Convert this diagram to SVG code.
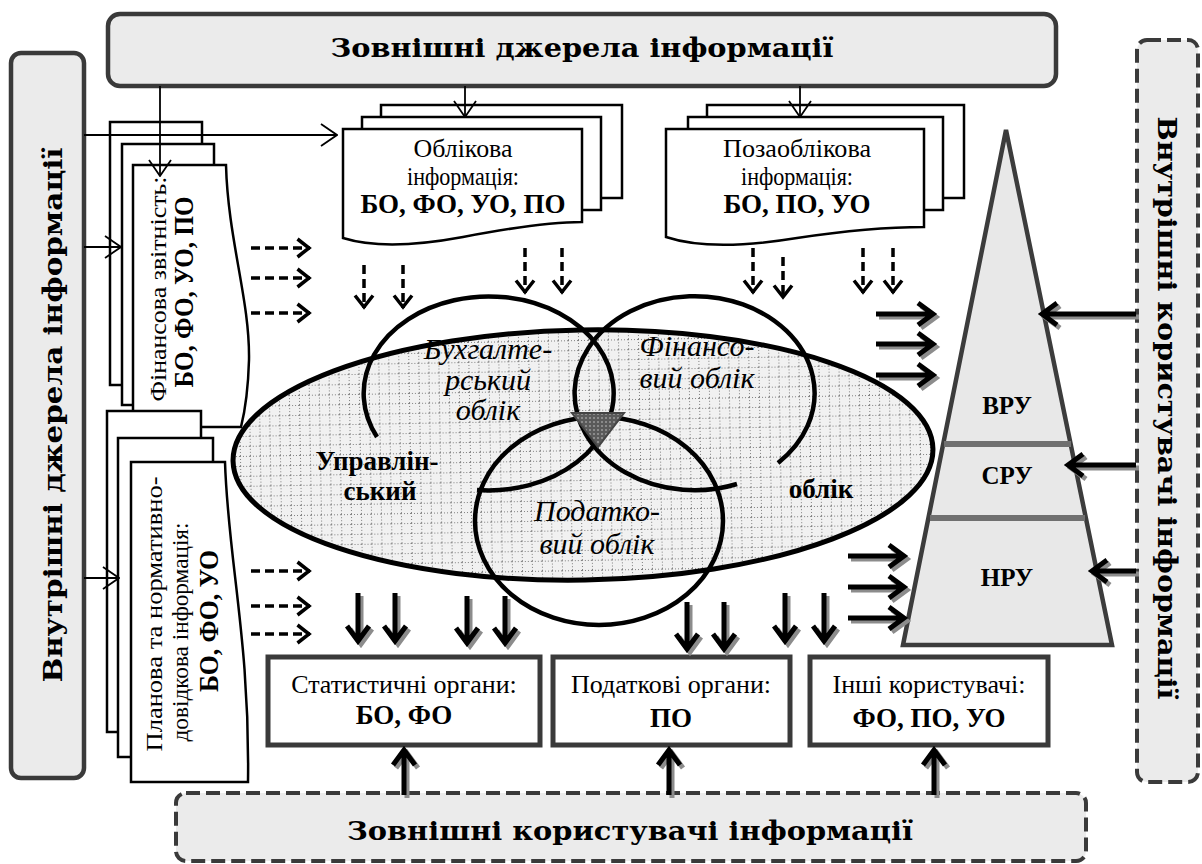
<svg xmlns="http://www.w3.org/2000/svg" xmlns:xlink="http://www.w3.org/1999/xlink" width="1202" height="864" viewBox="0 0 1202 864">
<style>
.t{font-family:'Liberation Serif','DejaVu Serif',serif;fill:#000}
.r{font-size:26px}
.d{font-size:24.5px}
.b{font-size:27px;font-weight:bold}
.i{font-size:30px;font-style:italic}
.rr{font-size:24px}
.h{font-family:'DejaVu Serif',serif;font-weight:bold;font-size:26px;fill:#000}
.page{fill:#fff;stroke:#000;stroke-width:2.5}
.gbox{fill:#ebebeb;stroke:#3a3a3a;stroke-width:4.5}
.dbox{fill:#ebebeb;stroke:#3a3a3a;stroke-width:4;stroke-dasharray:14 6}
.ubox{fill:#fff;stroke:#3a3a3a;stroke-width:5}
.thin{fill:none;stroke:#000;stroke-width:1.8}
.dash{fill:none;stroke:#000;stroke-width:3.5;stroke-dasharray:9 5}
.circ{fill:none;stroke:#000;stroke-width:4.5}
</style>
<defs>
<pattern id="grid" width="10" height="10" patternUnits="userSpaceOnUse">
<rect width="10" height="10" fill="#f1f1f1"/>
<path d="M0,0.5 H10 M0.5,0 V10" stroke="#808080" stroke-width="1" stroke-dasharray="1 2" fill="none"/>
</pattern>
<pattern id="dots" width="4" height="4" patternUnits="userSpaceOnUse">
<rect width="4" height="4" fill="#5a5a5a"/>
<circle cx="2" cy="2" r="0.8" fill="#c8c8c8"/>
</pattern>
<marker id="th" viewBox="0 0 18 24" refX="17" refY="12" markerWidth="18" markerHeight="24" markerUnits="userSpaceOnUse" orient="auto">
<path d="M1,1 L17,12 L1,23" fill="none" stroke="#000" stroke-width="1.8"/>
</marker>
<marker id="dh" viewBox="0 0 16 22" refX="14" refY="11" markerWidth="16" markerHeight="22" markerUnits="userSpaceOnUse" orient="auto">
<path d="M1.5,2 L13,11 L1.5,20" fill="none" stroke="#000" stroke-width="3.5" stroke-dasharray="none"/>
</marker>
<g id="solid" fill="none" stroke-width="5">
<path d="M876,314 H933 M918,303 L933,314 L918,325"/>
<path d="M876,344 H933 M918,333 L933,344 L918,355"/>
<path d="M876,375 H933 M918,364 L933,375 L918,386"/>
<path d="M848,556 H904 M889,545 L904,556 L889,567"/>
<path d="M848,587 H904 M889,576 L904,587 L889,598"/>
<path d="M848,618 H904 M889,607 L904,618 L889,629"/>
<path d="M1136,314 H1042 M1057,303 L1042,314 L1057,325"/>
<path d="M1136,465 H1068 M1083,454 L1068,465 L1083,476"/>
<path d="M1136,571 H1092 M1107,560 L1092,571 L1107,582"/>
<path d="M358,593 V641 M347,626 L358,641 L369,626"/>
<path d="M395,593 V641 M384,626 L395,641 L406,626"/>
<path d="M467,596 V643 M456,628 L467,643 L478,628"/>
<path d="M505,596 V643 M494,628 L505,643 L516,628"/>
<path d="M687,602 V649 M676,634 L687,649 L698,634"/>
<path d="M724,602 V649 M713,634 L724,649 L735,634"/>
<path d="M785,593 V641 M774,626 L785,641 L796,626"/>
<path d="M824,593 V641 M813,626 L824,641 L835,626"/>
<path d="M404,795 V750 M393,765 L404,750 L415,765"/>
<path d="M669,795 V750 M658,765 L669,750 L680,765"/>
<path d="M934,795 V750 M923,765 L934,750 L945,765"/>
</g>
</defs>

<g id="external-sources">
<rect class="gbox" x="108" y="14" width="948" height="72" rx="12"/>
<text class="h" x="582" y="57" text-anchor="middle" textLength="503" lengthAdjust="spacingAndGlyphs">Зовнішні джерела інформації</text>
</g>

<g id="internal-sources">
<rect class="gbox" x="11" y="53" width="73" height="725" rx="10"/>
<text class="h" transform="translate(62,415) rotate(-90)" text-anchor="middle" textLength="535" lengthAdjust="spacingAndGlyphs">Внутрішні джерела інформації</text>
</g>

<g id="internal-users">
<rect class="dbox" x="1137" y="40" width="61" height="742" rx="10"/>
<text class="h" transform="translate(1158,408) rotate(90)" text-anchor="middle" textLength="583" lengthAdjust="spacingAndGlyphs">Внутрішні користувачі інформації</text>
</g>

<g id="external-users">
<rect class="dbox" x="176" y="793" width="910" height="68" rx="10"/>
<text class="h" x="630" y="840" text-anchor="middle" textLength="566" lengthAdjust="spacingAndGlyphs">Зовнішні користувачі інформації</text>
</g>

<g id="doc-financial-reports">
<rect class="page" x="110" y="122" width="92" height="263"/>
<rect class="page" x="122" y="144" width="92" height="261"/>
<path class="page" d="M133,165 H226 C228,240 250,300 249,360 C248,395 244,415 241,427 H133 Z"/>
<text class="t rr" transform="translate(166,289) rotate(-90)" text-anchor="middle" textLength="225" lengthAdjust="spacingAndGlyphs">Фінансова звітність:</text>
<text class="t b" transform="translate(193,292) rotate(-90)" text-anchor="middle" textLength="191" lengthAdjust="spacingAndGlyphs">БО, ФО, УО, ПО</text>
</g>

<g id="doc-planning">
<rect class="page" x="107" y="411" width="94" height="321"/>
<rect class="page" x="118" y="438" width="95" height="319"/>
<path class="page" d="M131,462 H225 C228,560 250,640 248,782 H131 Z"/>
<text class="t rr" transform="translate(162,614) rotate(-90)" text-anchor="middle" textLength="275" lengthAdjust="spacingAndGlyphs">Планова та нормативно-</text>
<text class="t rr" transform="translate(188,632) rotate(-90)" text-anchor="middle" textLength="219" lengthAdjust="spacingAndGlyphs">довідкова інформація:</text>
<text class="t b" transform="translate(218,621) rotate(-90)" text-anchor="middle" textLength="142" lengthAdjust="spacingAndGlyphs">БО, ФО, УО</text>
</g>

<g id="doc-accounting">
<rect class="page" x="381" y="105" width="241" height="93"/>
<rect class="page" x="362" y="117" width="239" height="93"/>
<path class="page" d="M343,129 H582 V222 C550,222 510,228 463,237 C420,245 375,248 343,238 Z"/>
<text class="t d" x="463" y="157" text-anchor="middle" textLength="99" lengthAdjust="spacingAndGlyphs">Облікова</text>
<text class="t d" x="463" y="185" text-anchor="middle" textLength="112" lengthAdjust="spacingAndGlyphs">інформація:</text>
<text class="t b" x="463" y="213" text-anchor="middle">БО, ФО, УО, ПО</text>
</g>

<g id="doc-nonaccounting">
<rect class="page" x="707" y="105" width="257" height="93"/>
<rect class="page" x="688" y="117" width="255" height="93"/>
<path class="page" d="M666,129 H924 V227 C895,227 850,230 797,238 C760,244 705,250 666,237 Z"/>
<text class="t d" x="797" y="157" text-anchor="middle" textLength="148" lengthAdjust="spacingAndGlyphs">Позаоблікова</text>
<text class="t d" x="797" y="185" text-anchor="middle" textLength="112" lengthAdjust="spacingAndGlyphs">інформація:</text>
<text class="t b" x="797" y="213" text-anchor="middle">БО, ПО, УО</text>
</g>

<g id="accounting-system">
<ellipse cx="583" cy="455" rx="350" ry="125" transform="rotate(-1 583 455)" fill="url(#grid)" stroke="#000" stroke-width="5"/>
<path class="circ" d="M377,437 A125,97 0 1,1 477,490"/>
<path class="circ" d="M778,463 A120,97 0 1,0 737,484"/>
<ellipse class="circ" cx="599" cy="521" rx="124" ry="104"/>
<polygon points="572,413 624,413 598,447" fill="url(#dots)" stroke="#444" stroke-width="2"/>
<text class="t i" x="488" y="359" text-anchor="middle">Бухгалте-</text>
<text class="t i" x="488" y="390" text-anchor="middle">рський</text>
<text class="t i" x="488" y="420" text-anchor="middle">облік</text>
<text class="t i" x="697" y="356" text-anchor="middle">Фінансо-</text>
<text class="t i" x="697" y="388" text-anchor="middle">вий облік</text>
<text class="t i" x="597" y="521" text-anchor="middle">Податко-</text>
<text class="t i" x="597" y="554" text-anchor="middle">вий облік</text>
<text class="t b" x="377" y="470" text-anchor="middle">Управлін-</text>
<text class="t b" x="380" y="500" text-anchor="middle">ський</text>
<text class="t b" x="821" y="498" text-anchor="middle">облік</text>
</g>

<g id="pyramid">
<polygon points="1006,130 1112,645 903,645" fill="#e8e8e8" stroke="#3c3c3c" stroke-width="4.5"/>
<line x1="944" y1="444" x2="1071" y2="444" stroke="#707070" stroke-width="6"/>
<line x1="930" y1="518" x2="1085" y2="518" stroke="#707070" stroke-width="6"/>
<text class="t b" x="1007" y="414" text-anchor="middle" style="font-size:25px">ВРУ</text>
<text class="t b" x="1007" y="484" text-anchor="middle" style="font-size:25px">СРУ</text>
<text class="t b" x="1007" y="586" text-anchor="middle" style="font-size:25px">НРУ</text>
</g>

<g id="box-statistics">
<rect class="ubox" x="268" y="657" width="272" height="88"/>
<text class="t r" x="404" y="693" text-anchor="middle">Статистичні органи:</text>
<text class="t b" x="404" y="724" text-anchor="middle">БО, ФО</text>
</g>
<g id="box-tax">
<rect class="ubox" x="553" y="657" width="237" height="88"/>
<text class="t r" x="671" y="693" text-anchor="middle">Податкові органи:</text>
<text class="t b" x="671" y="727" text-anchor="middle">ПО</text>
</g>
<g id="box-others">
<rect class="ubox" x="810" y="657" width="238" height="88"/>
<text class="t r" x="929" y="693" text-anchor="middle">Інші користувачі:</text>
<text class="t b" x="929" y="727" text-anchor="middle">ФО, ПО, УО</text>
</g>

<g id="connectors">
<path class="thin" d="M160,86 V176" marker-end="url(#th)"/>
<path class="thin" d="M465,86 V117" marker-end="url(#th)"/>
<path class="thin" d="M800,86 V117" marker-end="url(#th)"/>
<path class="thin" d="M84,135 H337" marker-end="url(#th)"/>
<path class="thin" d="M84,247 H121" marker-end="url(#th)"/>
<path class="thin" d="M84,578 H119" marker-end="url(#th)"/>

<path class="dash" d="M251,248 H310" marker-end="url(#dh)"/>
<path class="dash" d="M251,278 H310" marker-end="url(#dh)"/>
<path class="dash" d="M251,313 H310" marker-end="url(#dh)"/>
<path class="dash" d="M251,571 H310" marker-end="url(#dh)"/>
<path class="dash" d="M251,606 H310" marker-end="url(#dh)"/>
<path class="dash" d="M251,634 H310" marker-end="url(#dh)"/>
<path class="dash" d="M364,265 V308" marker-end="url(#dh)"/>
<path class="dash" d="M403,265 V308" marker-end="url(#dh)"/>
<path class="dash" d="M525,248 V293" marker-end="url(#dh)"/>
<path class="dash" d="M562,248 V293" marker-end="url(#dh)"/>
<path class="dash" d="M753,248 V293" marker-end="url(#dh)"/>
<path class="dash" d="M783,257 V298" marker-end="url(#dh)"/>
<path class="dash" d="M863,248 V293" marker-end="url(#dh)"/>
<path class="dash" d="M893,248 V293" marker-end="url(#dh)"/>

<use xlink:href="#solid" href="#solid" transform="translate(3,3)" stroke="#8c8c8c"/>
<use xlink:href="#solid" href="#solid" stroke="#000"/>
</g>
</svg>
